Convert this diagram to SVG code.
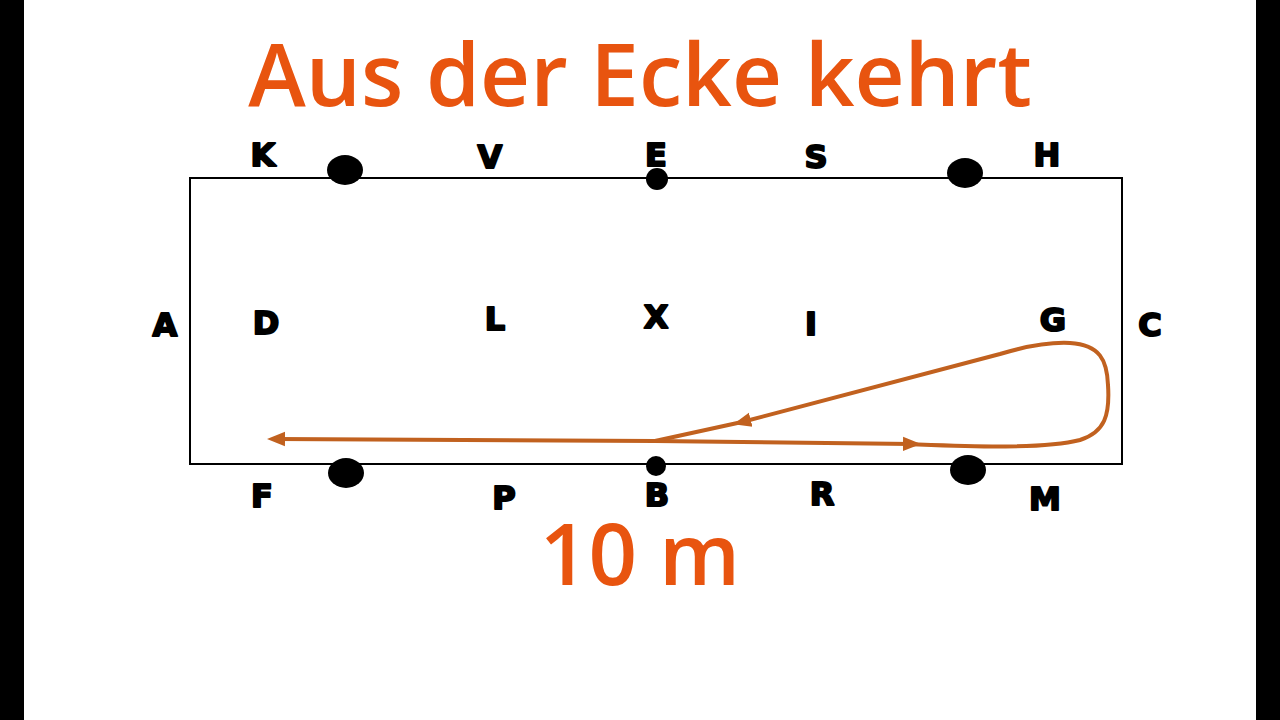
<svg xmlns="http://www.w3.org/2000/svg" width="1280" height="720" viewBox="0 0 1280 720">
<style>
.lbl{font-family:"DejaVu Sans","Liberation Sans",sans-serif;font-weight:bold;font-size:32px;fill:#000;stroke:#000;stroke-width:2;stroke-linejoin:round;text-anchor:middle}
.big{font-family:"Open Sans","Noto Sans",sans-serif;font-weight:600;font-size:85px;fill:#E8540F;text-anchor:middle}
.ttl{font-size:87px}
.path{fill:none;stroke:#C1611F;stroke-width:4;stroke-linecap:round;stroke-linejoin:round}
.dot{fill:#000}
</style>
<defs>
<marker id="ah" viewBox="0 0 10 10" refX="5" refY="5" markerWidth="4.5" markerHeight="4.5" orient="auto" markerUnits="strokeWidth">
<path d="M0,1 L10,5 L0,9 Z" fill="#C1611F"/>
</marker>
</defs>
<rect x="0" y="0" width="1280" height="720" fill="#fff"/>
<rect x="0" y="0" width="24" height="720" fill="#000"/>
<rect x="1256" y="0" width="24" height="720" fill="#000"/>
<g id="title"><text class="big ttl" x="640" y="106">Aus der Ecke kehrt</text></g>
<g id="arena"><rect x="190" y="178" width="932" height="286" fill="none" stroke="#000" stroke-width="2"/></g>
<g id="markers">
<ellipse class="dot" cx="345" cy="170" rx="18" ry="15"/>
<circle class="dot" cx="657" cy="179" r="11"/>
<ellipse class="dot" cx="965" cy="173" rx="18" ry="15"/>
<ellipse class="dot" cx="346" cy="473" rx="18" ry="15"/>
<circle class="dot" cx="656" cy="466" r="10"/>
<ellipse class="dot" cx="968" cy="470" rx="18" ry="15"/>
</g>
<g id="letters">
<text class="lbl" x="263" y="166">K</text>
<text class="lbl" x="490" y="168">V</text>
<text class="lbl" x="656" y="166">E</text>
<text class="lbl" x="816" y="168">S</text>
<text class="lbl" x="1047" y="166">H</text>
<text class="lbl" x="165" y="336">A</text>
<text class="lbl" x="266" y="334">D</text>
<text class="lbl" x="495" y="330">L</text>
<text class="lbl" x="656" y="328">X</text>
<text class="lbl" x="811" y="335">I</text>
<text class="lbl" x="1053" y="331">G</text>
<text class="lbl" x="1150" y="336">C</text>
<text class="lbl" x="262" y="507">F</text>
<text class="lbl" x="504" y="509">P</text>
<text class="lbl" x="657" y="506">B</text>
<text class="lbl" x="822" y="505">R</text>
<text class="lbl" x="1045" y="510">M</text>
</g>
<g id="connectors">
<path class="path" d="M655,441 L912,444" marker-end="url(#ah)"/>
<path class="path" d="M905,444 C960,446 1040,450 1080,440 C1105,432 1110,415 1108,385 C1107,360 1100,345 1070,343 C1050,342 1030,345 1000,354 L742,422" marker-end="url(#ah)"/>
<path class="path" d="M742,422 L655,441 L276,439" marker-end="url(#ah)"/>
</g>
<g id="scale"><text class="big" x="640" y="585">10 m</text></g>
</svg>
